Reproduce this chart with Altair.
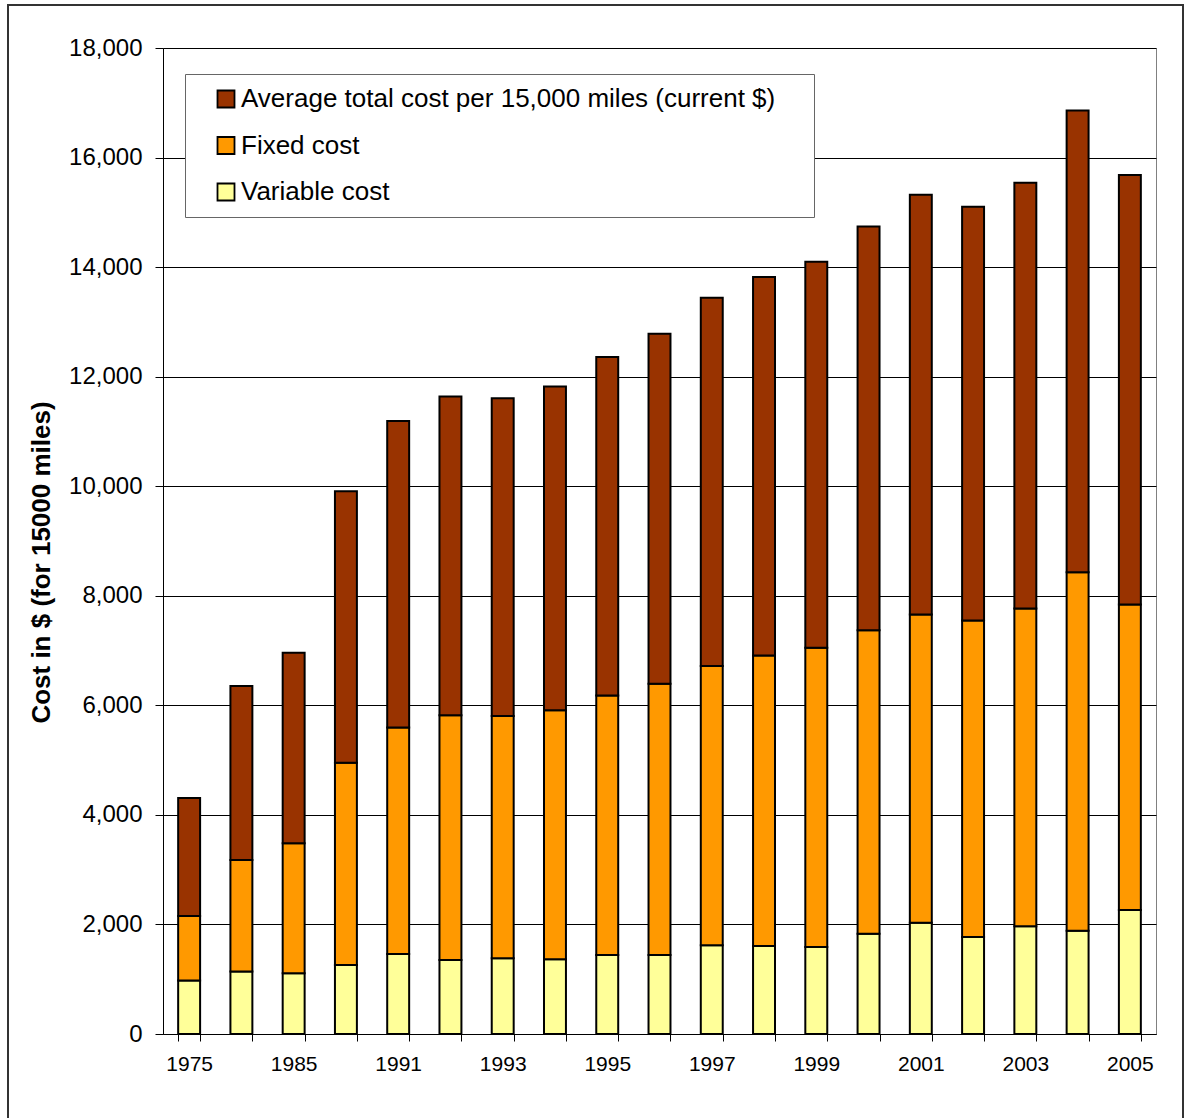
import altair as alt
import pandas as pd

years = ["1975", "1980", "1985", "1990", "1991", "1992", "1993", "1994", "1995", "1996",
         "1997", "1998", "1999", "2000", "2001", "2002", "2003", "2004", "2005"]
variable_cost = [975, 1140, 1108, 1260, 1460, 1351, 1382, 1364, 1442, 1442,
                 1619, 1607, 1588, 1831, 2032, 1771, 1966, 1886, 2264]
fixed_cost = [1179, 2037, 2373, 3693, 4136, 4469, 4421, 4546, 4738, 4950,
              5101, 5303, 5462, 5539, 5628, 5779, 5804, 6544, 5576]
total_cost = [2154, 3177, 3481, 4953, 5596, 5820, 5803, 5910, 6180, 6392,
              6720, 6910, 7050, 7370, 7660, 7550, 7770, 8430, 7840]
shown_labels = ["1975", "1985", "1991", "1993", "1995", "1997", "1999", "2001", "2003", "2005"]

s_total = "Average total cost per 15,000 miles (current $)"
s_fixed = "Fixed cost"
s_var = "Variable cost"
series = [s_total, s_fixed, s_var]
colors = ["#993300", "#FF9900", "#FFFF99"]

rows = []
for i, y in enumerate(years):
    rows.append({"year": y, "series": s_var, "value": variable_cost[i], "ord": 0})
    rows.append({"year": y, "series": s_fixed, "value": fixed_cost[i], "ord": 1})
    rows.append({"year": y, "series": s_total, "value": total_cost[i], "ord": 2})
df = pd.DataFrame(rows)

FONT = "Liberation Sans"
label_list = "[" + ",".join("'" + s + "'" for s in shown_labels) + "]"

bars = alt.Chart(df).mark_bar(stroke="black", strokeWidth=2).encode(
    x=alt.X("year:N", sort=years,
            scale=alt.Scale(paddingInner=0.58, paddingOuter=0.29),
            axis=alt.Axis(title=None, labelAngle=0, tickBand="extent", tickSize=7,
                          labelPadding=12, labelFontSize=21, labelFont=FONT,
                          labelColor="black", tickColor="black", domainColor="black",
                          labelExpr="indexof(" + label_list + ", datum.value) >= 0 ? datum.value : ''")),
    y=alt.Y("value:Q", stack="zero",
            scale=alt.Scale(domain=[0, 18000], nice=False),
            axis=alt.Axis(title="Cost in $ (for 15000 miles)", values=list(range(0, 18001, 2000)),
                          format=",.0f", tickSize=8, labelPadding=13, labelFontSize=24,
                          labelFont=FONT, labelColor="black", tickColor="black",
                          domainColor="black", gridColor="black", gridWidth=1,
                          titleFont=FONT, titleFontSize=26, titleFontWeight="bold",
                          titleColor="black", titlePadding=14, titleY=514)),
    color=alt.Color("series:N", scale=alt.Scale(domain=series, range=colors),
                    legend=alt.Legend(title="\u00a0", titleOrient="right", titlePadding=27,
                                      titleFontSize=10,
                                      orient="none", legendX=22, legendY=26,
                                      fillColor="white", strokeColor="#666666",
                                      padding=12, symbolType="square", symbolSize=289,
                                      symbolStrokeColor="black", symbolStrokeWidth=1.8,
                                      symbolOffset=16, labelOffset=2, rowPadding=20.5,
                                      labelFontSize=26, labelFont=FONT, labelColor="black",
                                      labelLimit=900)),
    order=alt.Order("ord:Q", sort="ascending"),
)

frame = alt.Chart(pd.DataFrame({"a": [0]})).mark_rect(
    fill=None, stroke="#333333", strokeWidth=2, clip=False
).encode(x=alt.value(-155), x2=alt.value(1020), y=alt.value(-43), y2=alt.value(1090))

chart = alt.layer(frame, bars).properties(
    width=993, height=986,
    autosize=alt.AutoSizeParams(type="none"),
    padding={"left": 163, "top": 48, "right": 29, "bottom": 84},
    background="white",
).configure_view(stroke="#808080", strokeWidth=1)

chart.save("out.html", embed_options={"renderer": "svg", "actions": False})
